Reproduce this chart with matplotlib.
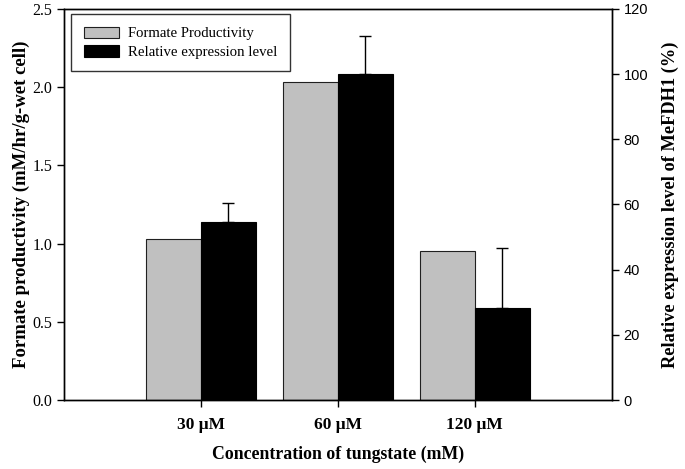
import matplotlib.pyplot as plt
import numpy as np

# data
conc_labels = ["30 \u03bcM", "60 \u03bcM", "120 \u03bcM"]
productivity = [1.03, 2.03, 0.95]          # left axis, mM/hr/g-wet cell
expression = [54.5, 100.0, 28.1]           # right axis, %
expression_err = [6.0, 11.7, 18.7]         # upper error only

SERIF = ["Liberation Serif", "DejaVu Serif"]
SANS = ["Liberation Sans", "DejaVu Sans"]

plt.rcParams.update({
    "font.family": SERIF,
    "axes.linewidth": 1.0,
})

fig = plt.figure(figsize=(6.85, 4.69), dpi=100)
ax = fig.add_axes([0.0934, 0.147, 0.7996, 0.834])
ax2 = ax.twinx()

x = np.arange(1, len(conc_labels) + 1)
w = 0.4

ax.bar(x - w / 2, productivity, width=w, color="#c0c0c0", edgecolor="#202020",
       linewidth=0.8, label="Formate Productivity")
ax2.bar(x + w / 2, expression, width=w, color="black", edgecolor="black",
        linewidth=0.8, label="Relative expression level")
ax2.errorbar(x + w / 2, expression,
             yerr=[np.zeros(len(expression)), expression_err],
             fmt="none", ecolor="black", elinewidth=1.0, capsize=4.5, capthick=1.0)

ax.set_xlim(0, 4)
ax.set_ylim(0, 2.5)
ax2.set_ylim(0, 120)

ax.set_xticks(x)
ax.set_xticklabels(conc_labels, fontsize=12.5, fontweight="bold")
ax.set_yticks(np.arange(0, 2.51, 0.5))
ax.set_yticklabels([f"{v:.1f}" for v in np.arange(0, 2.51, 0.5)], fontsize=11.5)
ax2.set_yticks(np.arange(0, 121, 20))
ax2.set_yticklabels([str(v) for v in range(0, 121, 20)], fontsize=10.5, family=SANS)

ax.tick_params(axis="both", direction="out", length=5, width=1.0, colors="black")
ax.tick_params(axis="x", pad=7)
ax2.tick_params(axis="y", direction="out", length=5, width=1.0)

ax.set_xlabel("Concentration of tungstate (mM)", fontsize=12.8, fontweight="bold", labelpad=9)
ax.set_ylabel("Formate productivity (mM/hr/g-wet cell)", fontsize=13.5, fontweight="bold", labelpad=2)
ax2.set_ylabel("Relative expression level of MeFDH1 (%)", fontsize=13.2, fontweight="bold", labelpad=10)

h1, l1 = ax.get_legend_handles_labels()
h2, l2 = ax2.get_legend_handles_labels()
leg = ax2.legend(h1 + h2, l1 + l2, loc="upper left", bbox_to_anchor=(0.0128, 0.987),
                 fontsize=10.6, frameon=True, fancybox=False, edgecolor="black",
                 handlelength=2.4, handleheight=0.85, borderpad=0.85, labelspacing=0.3,
                 handletextpad=0.6, borderaxespad=0)
leg.get_frame().set_linewidth(1.0)

fig.savefig("out.png", dpi=100)
